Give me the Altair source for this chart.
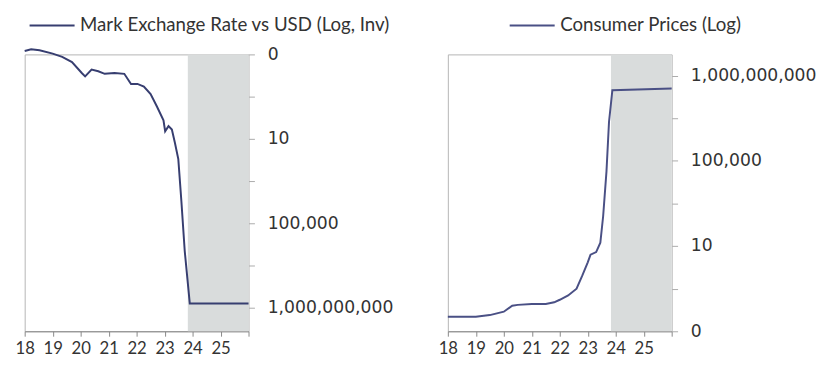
import altair as alt
import pandas as pd

# Left panel: Mark exchange rate vs USD (log, inverted) - value in major-tick units
fx_year = [18.0, 18.23, 18.53, 19.0, 19.34, 19.69, 20.04, 20.16, 20.39, 20.63, 20.86,
           21.21, 21.56, 21.8, 22.03, 22.26, 22.5, 22.73, 22.96, 23.02, 23.14, 23.26,
           23.37, 23.49, 23.6, 23.72, 23.9, 26.0]
fx_val = [-0.04, -0.06, -0.05, -0.01, 0.03, 0.09, 0.22, 0.26, 0.18, 0.20, 0.23,
          0.22, 0.23, 0.35, 0.35, 0.38, 0.47, 0.62, 0.78, 0.91, 0.85, 0.89,
          1.05, 1.24, 1.74, 2.33, 2.95, 2.95]

# Right panel: consumer prices (log)
cp_year = [18.0, 19.0, 19.5, 20.0, 20.3, 20.5, 21.0, 21.5, 21.8, 22.0, 22.3, 22.6,
           22.8, 23.0, 23.1, 23.3, 23.45, 23.55, 23.67, 23.76, 23.88, 26.0]
cp_val = [0.17, 0.17, 0.19, 0.23, 0.30, 0.31, 0.32, 0.32, 0.34, 0.37, 0.42, 0.50,
          0.65, 0.81, 0.90, 0.93, 1.04, 1.35, 1.88, 2.46, 2.83, 2.85]

tick_values = [0, 0.5, 1, 1.5, 2, 2.5, 3]
tick_labels = ["0", "10", "100,000", "1,000,000,000"]
x_ticks = [18, 19, 20, 21, 22, 23, 24, 25, 26]
x_labels = ["18", "19", "20", "21", "22", "23", "24", "25"]
shade = [23.83, 26.0]

fx_name = "Mark Exchange Rate vs USD (Log, Inv)"
cp_name = "Consumer Prices (Log)"

FONT = "Lato"
YFONT = "DejaVu Sans"
TXT = "#333333"

label_expr = ("datum.value == 0 ? '%s' : datum.value == 1 ? '%s' : "
              "datum.value == 2 ? '%s' : datum.value == 3 ? '%s' : ''") % tuple(tick_labels)
x_label_expr = "datum.value < 26 ? format(datum.value, 'd') : ''"

W, H = 228, 282
# custom legend key: a long horizontal stroke drawn from a small symbol
KEY_PATH = "M-5,0H5"
KEY_SIZE = 84


def panel(years, vals, name, color, domain, reverse, legend_x):
    df = pd.DataFrame({"year": years, "v": vals, "series": name})
    shade_df = pd.DataFrame({"x0": [shade[0]], "x1": [shade[1]],
                             "y0": [domain[0]], "y1": [domain[1]]})
    xs = alt.Scale(domain=[18, 26], nice=False, zero=False)
    ys = alt.Scale(domain=domain, reverse=reverse, nice=False, zero=False)
    xaxis = alt.Axis(values=x_ticks, labelExpr=x_label_expr, title=None, grid=False,
                     domainColor="#888888", tickColor="#888888", tickSize=5,
                     labelFont=FONT, labelFontSize=17, labelColor=TXT, labelPadding=5,
                     labelFlush=False, labelOverlap=False, labelBound=False)
    yaxis = alt.Axis(orient="right", values=tick_values, labelExpr=label_expr, title=None,
                     grid=False, domain=False, tickColor="#aaaaaa", tickSize=6,
                     labelFont=YFONT, labelFontSize=17.5, labelColor=TXT, labelPadding=13,
                     labelOverlap=False)
    rect = alt.Chart(shade_df).mark_rect(color="#d9dcdc").encode(
        x=alt.X("x0:Q", scale=xs, axis=xaxis),
        x2="x1:Q",
        y=alt.Y("y0:Q", scale=ys, axis=yaxis),
        y2="y1:Q",
    )
    line = alt.Chart(df).mark_line(strokeWidth=2).encode(
        x=alt.X("year:Q", scale=xs, axis=xaxis),
        y=alt.Y("v:Q", scale=ys, axis=yaxis),
        color=alt.Color("series:N", scale=alt.Scale(domain=[name], range=[color]),
                        legend=alt.Legend(orient="none", legendX=legend_x + 18.4,
                                          legendY=-39, title=None, symbolType=KEY_PATH,
                                          symbolSize=KEY_SIZE, symbolStrokeWidth=2,
                                          labelFont=FONT, labelFontSize=19, labelLimit=0,
                                          labelColor=TXT, labelOffset=19, padding=0)),
    )
    return alt.layer(rect, line).properties(width=W, height=H)


left = panel(fx_year, fx_val, fx_name, "#373e70", [0, 3.28], True, 0)
right = panel(cp_year, cp_val, cp_name, "#4a5085", [0, 3.25], False, 58)

chart = alt.hconcat(left, right, spacing=44).resolve_scale(
    color="independent").resolve_legend(color="independent").configure_view(
    stroke="#b5b5b5", strokeWidth=1).properties(
    padding={"left": 6, "top": 4, "right": 0, "bottom": 0})

chart.save("out.html", embed_options={"renderer": "svg", "actions": False})
